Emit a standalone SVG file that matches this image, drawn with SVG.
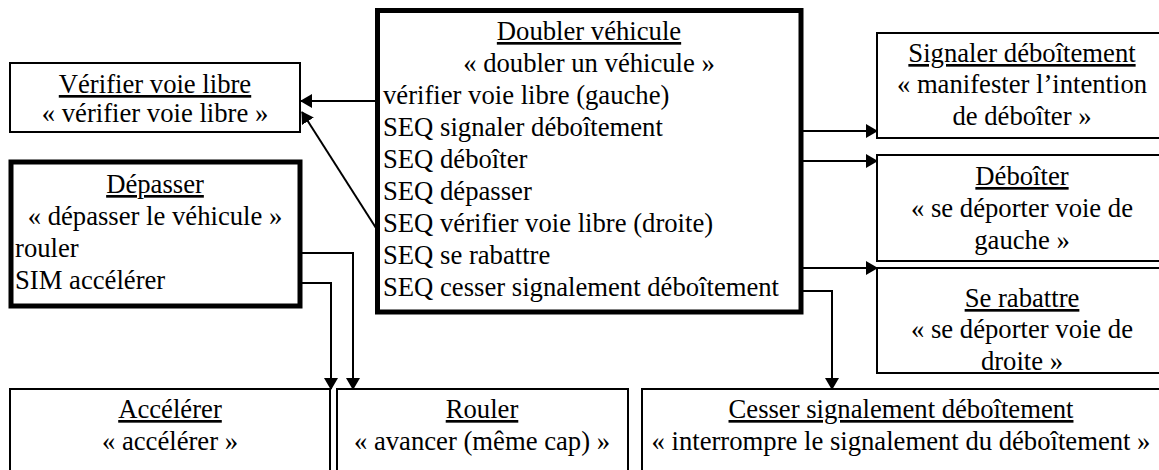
<svg xmlns="http://www.w3.org/2000/svg" width="1159" height="470" viewBox="0 0 1159 470">
<style>
text{font-family:'Liberation Serif','Times New Roman','DejaVu Serif',serif;font-size:26.67px;fill:#000}
.c{text-anchor:middle}
.u{text-decoration:underline}
.thin{fill:#fff;stroke:#000;stroke-width:2}
.thick{fill:#fff;stroke:#000;stroke-width:5}
.conn{fill:none;stroke:#000;stroke-width:2}
</style>
<defs>
<marker id="ah" markerUnits="userSpaceOnUse" markerWidth="12" markerHeight="14" refX="11" refY="7" orient="auto">
<path d="M0,0 L12,7 L0,14 Z" fill="#000"/>
</marker>
</defs>
<rect width="1159" height="470" fill="#fff"/>
<g font-family="Liberation Serif, serif">
<g id="verifier">
<rect class="thin" x="10" y="63" width="290" height="69"/>
<text class="c u" x="155" y="93">Vérifier voie libre</text>
<text class="c" x="155" y="122">« vérifier voie libre »</text>
</g>
<g id="depasser">
<rect class="thick" x="11" y="162" width="289" height="144"/>
<text class="c u" x="155" y="193">Dépasser</text>
<text class="c" x="155" y="225">« dépasser le véhicule »</text>
<text x="15" y="257">rouler</text>
<text x="15" y="289">SIM accélérer</text>
</g>
<g id="doubler">
<rect class="thick" x="377.5" y="10.5" width="423.5" height="301.5"/>
<text class="c u" x="589" y="40">Doubler véhicule</text>
<text class="c" x="589" y="72">« doubler un véhicule »</text>
<text x="383" y="104">vérifier voie libre (gauche)</text>
<text x="383" y="136">SEQ signaler déboîtement</text>
<text x="383" y="168">SEQ déboîter</text>
<text x="383" y="200">SEQ dépasser</text>
<text x="383" y="232">SEQ vérifier voie libre (droite)</text>
<text x="383" y="264">SEQ se rabattre</text>
<text x="383" y="296">SEQ cesser signalement déboîtement</text>
</g>
<g id="signaler">
<rect class="thin" x="877" y="33" width="300" height="105"/>
<text class="c u" x="1022" y="62">Signaler déboîtement</text>
<text class="c" x="1022" y="93">« manifester l’intention</text>
<text class="c" x="1022" y="125">de déboîter »</text>
</g>
<g id="deboiter">
<rect class="thin" x="877" y="155" width="300" height="106"/>
<text class="c u" x="1022" y="185">Déboîter</text>
<text class="c" x="1022" y="217">« se déporter voie de</text>
<text class="c" x="1022" y="249">gauche »</text>
</g>
<g id="serabattre">
<rect class="thin" x="877" y="268" width="300" height="105"/>
<text class="c u" x="1022" y="307">Se rabattre</text>
<text class="c" x="1022" y="338">« se déporter voie de</text>
<text class="c" x="1022" y="370">droite »</text>
</g>
<g id="accelerer">
<rect class="thin" x="10" y="389" width="320" height="100"/>
<text class="c u" x="170" y="418">Accélérer</text>
<text class="c" x="170" y="450">« accélérer »</text>
</g>
<g id="rouler">
<rect class="thin" x="337" y="389" width="291" height="100"/>
<text class="c u" x="482" y="418">Rouler</text>
<text class="c" x="482" y="450">« avancer (même cap) »</text>
</g>
<g id="cesser">
<rect class="thin" x="642" y="389" width="530" height="100"/>
<text class="c u" x="901" y="418">Cesser signalement déboîtement</text>
<text class="c" x="901" y="450">« interrompre le signalement du déboîtement »</text>
</g>
</g>
<g id="connectors">
<path class="conn" marker-end="url(#ah)" d="M377,101 L301,101"/>
<path class="conn" marker-end="url(#ah)" d="M376,228 L302,112"/>
<path class="conn" marker-end="url(#ah)" d="M803,131 L877,131"/>
<path class="conn" marker-end="url(#ah)" d="M803,161 L877,161"/>
<path class="conn" marker-end="url(#ah)" d="M803,268 L877,268"/>
<path class="conn" marker-end="url(#ah)" d="M803,291 L832,291 L832,389"/>
<path class="conn" marker-end="url(#ah)" d="M302,253 L353,253 L353,389"/>
<path class="conn" marker-end="url(#ah)" d="M302,283 L331,283 L331,389"/>
</g>
</svg>
